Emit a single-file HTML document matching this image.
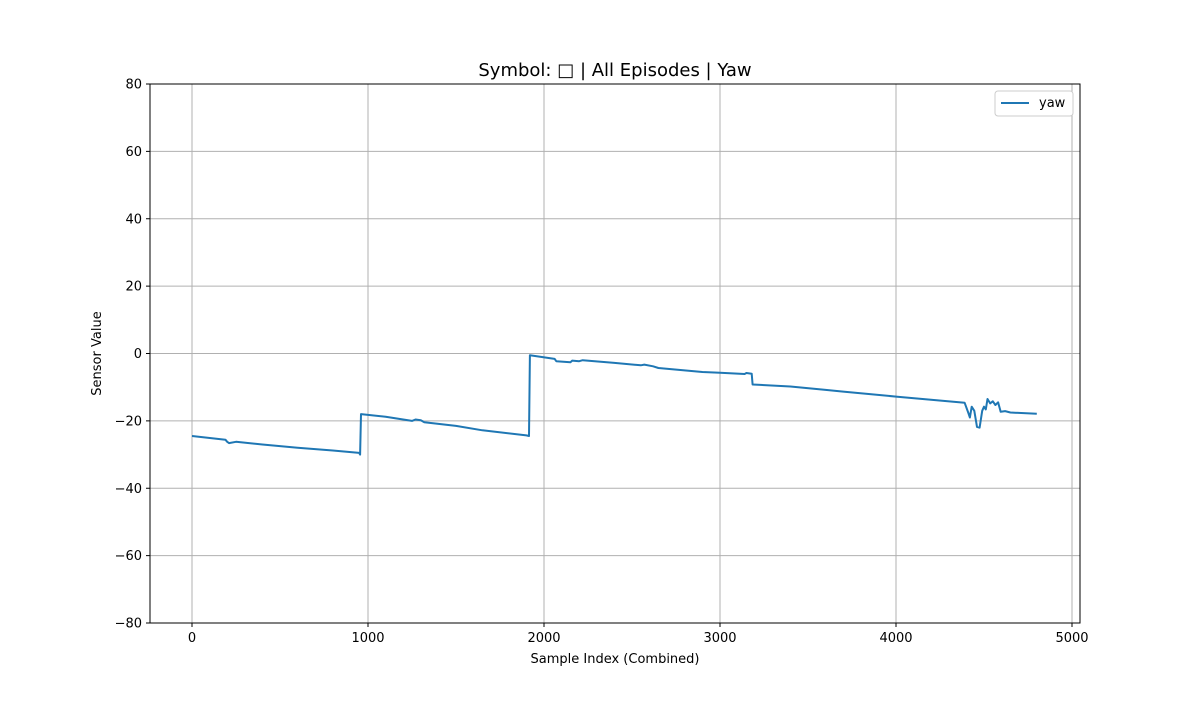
<!DOCTYPE html>
<html><head><meta charset="utf-8"><style>
html,body{margin:0;padding:0;background:#fff;}
svg text{font-family:"DejaVu Sans","Liberation Sans",sans-serif;}
</style></head><body>
<svg id="chart" width="1200" height="700" xmlns="http://www.w3.org/2000/svg">
<rect width="1200" height="700" fill="#fff"/>
<g id="grid"></g>
<g id="ticks"></g>
<path id="line" fill="none" stroke="#1f77b4" stroke-width="2" stroke-linejoin="round"/>
<rect x="150" y="84" width="930" height="539" fill="none" stroke="#000" stroke-width="1"/>
<text x="615" y="76" text-anchor="middle" font-size="18">Symbol: □ | All Episodes | Yaw</text>
<text x="615" y="663" text-anchor="middle" font-size="13">Sample Index (Combined)</text>
<text transform="translate(101,353.5) rotate(-90)" text-anchor="middle" font-size="13">Sensor Value</text>
<g>
<rect x="995" y="91" width="78" height="25" rx="3" fill="#fff" stroke="#ccc"/>
<line x1="1001" y1="103" x2="1029" y2="103" stroke="#1f77b4" stroke-width="2"/>
<text x="1039" y="107" font-size="13">yaw</text>
</g>
</svg>
<script>
const xTicks=[0,1000,2000,3000,4000,5000];
const yTicks=[-80,-60,-40,-20,0,20,40,60,80];
const xs=[0,190,200,210,250,400,600,800,950,955,960,1100,1250,1270,1300,1320,1500,1650,1900,1915,1920,2060,2070,2150,2160,2200,2220,2400,2550,2570,2620,2650,2900,3000,3140,3150,3180,3185,3400,3600,3700,4000,4390,4410,4420,4430,4445,4460,4475,4490,4500,4510,4520,4535,4550,4565,4580,4595,4620,4650,4800];
const ys=[-24.5,-25.6,-26.2,-26.6,-26.2,-27,-28,-28.8,-29.5,-30,-18,-18.8,-20,-19.6,-19.8,-20.4,-21.5,-22.8,-24.3,-24.5,-0.5,-1.6,-2.3,-2.6,-2.1,-2.3,-2,-2.8,-3.5,-3.3,-3.8,-4.3,-5.5,-5.7,-6.1,-5.8,-6,-9.2,-9.8,-10.8,-11.3,-12.8,-14.6,-17.5,-19,-15.8,-17,-21.8,-22,-17,-15.8,-16.6,-13.5,-14.8,-14.2,-15.3,-14.5,-17.3,-17.1,-17.5,-17.9];
const X=v=>192+v*0.176;
const Y=v=>353.5-v*(539/160);
const ns="http://www.w3.org/2000/svg";
const grid=document.getElementById('grid'),ticks=document.getElementById('ticks');
function mk(t,a,p){const e=document.createElementNS(ns,t);for(const k in a)e.setAttribute(k,a[k]);p.appendChild(e);return e;}
xTicks.forEach(v=>{const x=X(v);
 const g=mk('line',{x1:x,x2:x,y1:84,y2:623,stroke:'#b0b0b0','stroke-width':1},grid);
 
 
 mk('line',{x1:x,x2:x,y1:623,y2:627,stroke:'#000'},ticks);
 const t=mk('text',{x:x,y:642,'text-anchor':'middle','font-size':13},ticks);t.textContent=v;
 
 });
yTicks.forEach(v=>{const y=Y(v);
 const g=mk('line',{x1:150,x2:1080,y1:y,y2:y,stroke:'#b0b0b0','stroke-width':1},grid);
 
 
 mk('line',{x1:146,x2:150,y1:y,y2:y,stroke:'#000'},ticks);
 const t=mk('text',{x:142,y:y+4.5,'text-anchor':'end','font-size':13},ticks);t.textContent=(v<0?'\u2212'+(-v):v);
 
 });
document.getElementById('line').setAttribute('d',xs.map((v,i)=>(i?'L':'M')+X(v).toFixed(1)+','+Y(ys[i]).toFixed(1)).join(''));
</script>
</body></html>
